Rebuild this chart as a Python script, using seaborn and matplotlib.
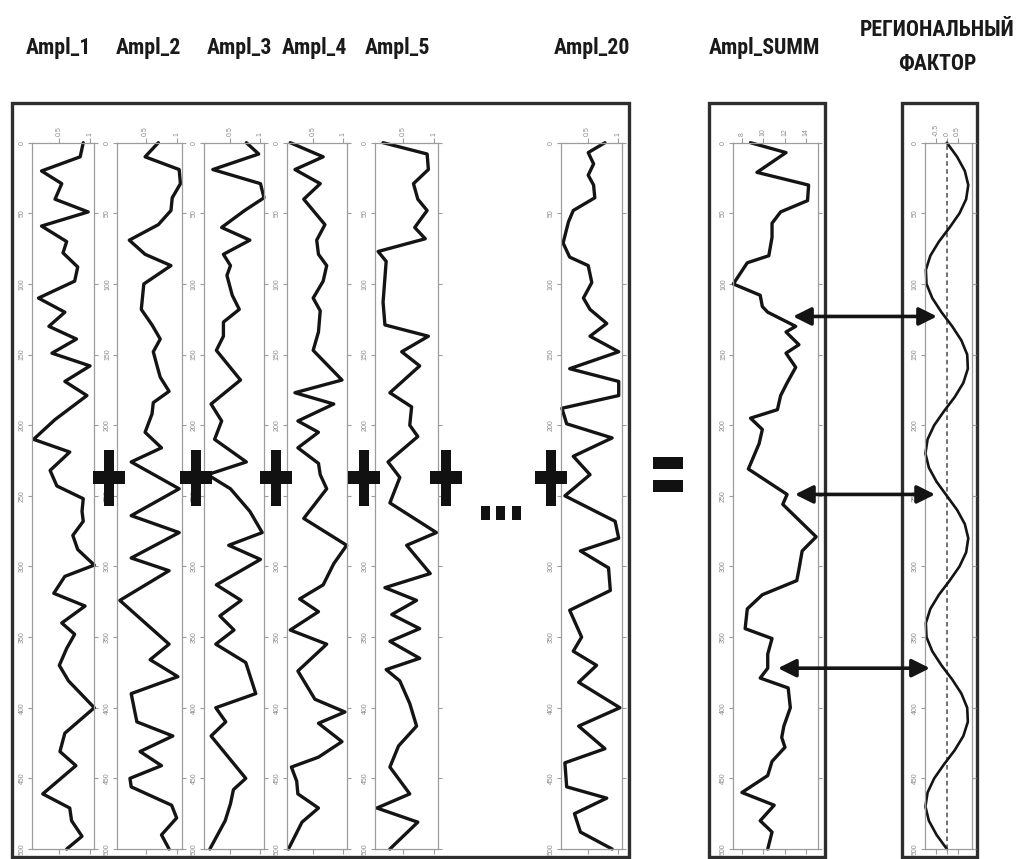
import matplotlib
matplotlib.use("Agg")
import matplotlib.pyplot as plt
import seaborn as sns
from matplotlib import font_manager as fm
from matplotlib.font_manager import FontProperties
from matplotlib.patches import Rectangle, ConnectionPatch

# ---------------- data ----------------
depth_ticks = [0, 50, 100, 150, 200, 250, 300, 350, 400, 450, 500]

track_names = ["Ampl_1", "Ampl_2", "Ampl_3", "Ampl_4", "Ampl_5", "Ampl_20"]
summ_name = "Ampl_SUMM"
regional_name = "РЕГИОНАЛЬНЫЙ\nФАКТОР"

depth_1 = [0, 10, 20, 29, 40, 49, 59, 70, 78, 88, 98, 110, 120, 130, 139, 149, 158, 169, 179, 196,
           210, 219, 232, 243, 252, 261, 268, 278, 288, 299, 307, 319, 328, 340, 348, 358, 370, 381,
           400, 418, 431, 441, 461, 471, 480, 491, 500]
ampl_1 = [0.89, 0.84, 0.21, 0.54, 0.43, 0.97, 0.21, 0.62, 0.56, 0.80, 0.75, 0.16, 0.59, 0.33, 0.78,
          0.38, 1.00, 0.59, 0.95, 0.43, 0.08, 0.67, 0.35, 0.46, 0.89, 0.87, 0.89, 0.72, 0.80, 1.07,
          0.59, 0.41, 0.92, 0.54, 0.75, 0.62, 0.50, 0.65, 1.07, 0.59, 0.51, 0.77, 0.23, 0.67, 0.70,
          0.87, 0.62]

depth_2 = [0, 10, 19, 29, 39, 48, 58, 69, 79, 87, 100, 118, 129, 139, 148, 158, 166, 176, 184, 192,
           205, 216, 226, 245, 264, 276, 294, 303, 324, 355, 366, 378, 390, 410, 420, 431, 441, 450,
           456, 469, 478, 490, 500]
ampl_2 = [0.70, 0.49, 1.03, 1.05, 0.92, 0.90, 0.70, 0.24, 0.49, 0.90, 0.47, 0.43, 0.60, 0.73, 0.62,
          0.68, 0.73, 0.87, 0.62, 0.60, 0.49, 0.75, 0.27, 1.03, 0.27, 1.03, 0.27, 0.87, 0.09, 0.87,
          0.57, 1.01, 0.27, 0.36, 0.93, 0.41, 0.75, 0.25, 0.27, 0.91, 0.99, 0.75, 0.87]

depth_3 = [0, 8, 19, 29, 39, 48, 60, 69, 79, 87, 94, 108, 118, 127, 137, 147, 168, 185, 197, 210,
           226, 235, 245, 261, 276, 285, 295, 313, 324, 335, 345, 355, 368, 390, 400, 410, 420, 450,
           458, 468, 480, 500]
ampl_3 = [0.77, 0.98, 0.20, 1.01, 1.07, 0.74, 0.35, 0.83, 0.38, 0.50, 0.44, 0.53, 0.65, 0.38, 0.38,
          0.26, 0.67, 0.17, 0.35, 0.23, 0.77, 0.11, 0.50, 0.83, 1.04, 0.47, 1.01, 0.26, 0.68, 0.32,
          0.56, 0.25, 0.76, 0.93, 0.25, 0.42, 0.17, 0.76, 0.55, 0.50, 0.41, 0.15]

depth_4 = [0, 10, 19, 29, 40, 58, 69, 79, 87, 98, 110, 119, 134, 147, 168, 177, 185, 197, 205, 216,
           227, 235, 245, 266, 285, 298, 313, 323, 332, 345, 355, 374, 394, 403, 411, 424, 435, 442,
           452, 461, 471, 481, 500]
ampl_4 = [0.11, 0.67, 0.19, 0.62, 0.34, 0.70, 0.56, 0.59, 0.73, 0.67, 0.50, 0.62, 0.59, 0.50, 0.99,
          0.19, 0.85, 0.24, 0.59, 0.24, 0.59, 0.62, 0.73, 0.34, 1.07, 0.85, 0.67, 0.27, 0.59, 0.11,
          0.73, 0.24, 0.53, 1.04, 0.59, 0.99, 0.59, 0.13, 0.22, 0.24, 0.59, 0.31, 0.08]

depth_5 = [0, 8, 19, 29, 40, 48, 60, 68, 77, 84, 113, 129, 137, 148, 158, 177, 187, 200, 208, 226,
           237, 255, 276, 285, 305, 315, 324, 334, 344, 353, 365, 373, 381, 397, 413, 427, 442, 461,
           471, 481, 500]
ampl_5 = [0.18, 0.89, 0.91, 0.67, 0.74, 0.89, 0.69, 0.86, 0.10, 0.23, 0.18, 0.21, 0.91, 0.48, 0.77,
          0.29, 0.64, 0.61, 0.74, 0.26, 0.45, 0.29, 1.04, 0.56, 0.94, 0.21, 0.72, 0.32, 0.77, 0.29,
          0.77, 0.23, 0.45, 0.61, 0.72, 0.43, 0.29, 0.61, 0.08, 0.74, 0.29]

depth_20 = [0, 7, 15, 23, 30, 39, 48, 56, 71, 81, 87, 99, 110, 118, 128, 137, 148, 160, 169, 179,
            188, 199, 209, 222, 235, 250, 268, 280, 289, 301, 317, 331, 350, 360, 370, 382, 400, 413,
            429, 439, 456, 464, 475, 488, 500]
ampl_20 = [0.79, 0.51, 0.60, 0.51, 0.60, 0.62, 0.26, 0.18, 0.09, 0.20, 0.51, 0.57, 0.43, 0.54, 0.82,
           0.54, 1.02, 0.20, 1.02, 1.02, 0.07, 0.15, 0.91, 0.26, 0.54, 0.12, 0.96, 1.02, 0.38, 0.85,
           0.88, 0.20, 0.40, 0.26, 0.65, 0.35, 1.04, 0.35, 0.79, 0.12, 0.15, 0.82, 0.28, 0.38, 0.91]

depth_summ = [0, 7, 21, 30, 41, 49, 57, 67, 80, 85, 100, 108, 116, 120, 130, 134, 143, 149, 159, 170,
              179, 189, 195, 203, 213, 231, 249, 256, 279, 289, 302, 310, 320, 330, 344, 351, 362,
              372, 379, 386, 400, 413, 421, 428, 438, 448, 460, 469, 480, 488, 500]
ampl_summ = [8.8, 12.1, 9.4, 14.2, 14.1, 11.6, 10.8, 10.8, 10.5, 8.5, 7.2, 9.7, 9.9, 10.4, 13.0, 12.1,
             13.3, 12.1, 13.0, 12.2, 11.6, 11.3, 8.8, 9.9, 9.6, 8.6, 12.2, 11.8, 14.9, 13.6, 13.3, 13.1,
             9.9, 8.5, 8.3, 10.8, 10.4, 10.4, 9.7, 12.3, 12.5, 11.9, 11.7, 12.0, 10.8, 10.4, 8.0, 11.0,
             9.7, 10.8, 10.4]

depth_regional = [0, 10, 20, 30, 40, 50, 60, 70, 80, 90, 100, 110, 120, 130, 140, 150, 160, 170, 180,
                  190, 200, 210, 220, 230, 240, 250, 260, 270, 280, 290, 300, 310, 320, 330, 340,
                  350, 360, 370, 380, 390, 400, 410, 420, 430, 440, 450, 460, 470, 480, 490, 500]
ampl_regional = [0.00, 0.48, 0.84, 1.00, 0.90, 0.59, 0.13, -0.37, -0.77, -0.98, -0.95, -0.68, -0.25,
                 0.25, 0.68, 0.95, 0.98, 0.77, 0.37, -0.13, -0.59, -0.90, -1.00, -0.84, -0.48, 0.00,
                 0.48, 0.84, 1.00, 0.90, 0.59, 0.13, -0.37, -0.77, -0.98, -0.95, -0.68, -0.25, 0.25,
                 0.68, 0.95, 0.98, 0.77, 0.37, -0.13, -0.59, -0.90, -1.00, -0.84, -0.48, 0.00]

# depths where SUMM features line up with the regional trend
link_depths = [123, 249, 372]
link_summ_values = [12.75, 12.93, 11.35]
link_regional_values = [-0.46, -0.55, -0.79]

# ---------------- style ----------------
sns.set_theme(style="white")
plt.rcParams["font.family"] = ["Liberation Sans", "DejaVu Sans"]

W, H = 1019, 859
fig = plt.figure(figsize=(W / 100, H / 100), dpi=100)
fig.patch.set_facecolor("white")

INK = "#141414"
FRAME = "#2e2e2e"
AXIS_GREY = "#9c9c9c"
LABEL_GREY = "#8a8a8a"


def pick_header_font():
    """Prefer a bold narrow/condensed face for the column headers."""
    def is_bold(f):
        w = f.weight
        if isinstance(w, (int, float)):
            return w >= 600
        return str(w).lower() in ("bold", "semibold", "demibold", "heavy", "black", "extra bold")

    def is_narrow(f):
        return ("Narrow" in f.name or "Condensed" in f.name
                or str(f.stretch) in ("condensed", "semi-condensed", "extra-condensed"))

    cands = [f for f in fm.fontManager.ttflist if is_bold(f) and is_narrow(f)]
    order = ["Liberation", "Roboto", "Open Sans", "Noto Sans", "DejaVu"]
    for key in order:
        for f in cands:
            if f.name.startswith(key) and "Mono" not in f.name and "Serif" not in f.name:
                return FontProperties(fname=f.fname)
    return FontProperties(family=["Liberation Sans", "DejaVu Sans"], weight="bold")


def px_axes(left, top, right, bottom):
    return fig.add_axes([left / W, 1 - bottom / H, (right - left) / W, (bottom - top) / H])


def px_rect(left, top, right, bottom, **kw):
    r = Rectangle((left / W, 1 - bottom / H), (right - left) / W, (bottom - top) / H,
                  transform=fig.transFigure, **kw)
    fig.add_artist(r)
    return r


def style_track(ax, xlim, xticks, xticklabels):
    ax.set_ylim(500, 0)
    ax.set_xlim(*xlim)
    ax.set_yticks(depth_ticks)
    ax.set_yticklabels([str(d) for d in depth_ticks])
    ax.set_xticks(xticks)
    ax.set_xticklabels(xticklabels)
    ax.set_xlabel("")
    ax.set_ylabel("")
    ax.grid(False)
    ax.set_facecolor("white")
    for sp in ax.spines.values():
        sp.set_color(AXIS_GREY)
        sp.set_linewidth(0.9)
        sp.set_visible(True)
    ax.tick_params(axis="y", left=True, right=True, labelleft=True, labelright=False,
                   direction="out", length=3, width=0.8, color=AXIS_GREY,
                   labelsize=5, labelcolor=LABEL_GREY, pad=1.5, labelrotation=90)
    for lab in ax.get_yticklabels():
        lab.set_verticalalignment("center")
    ax.tick_params(axis="x", top=True, bottom=True, labeltop=True, labelbottom=False,
                   direction="out", length=3.5, width=0.8, color=AXIS_GREY,
                   labelsize=5, labelcolor=LABEL_GREY, pad=1.5, labelrotation=90)


def draw_curve(ax, values, depths, lw=2.4):
    sns.lineplot(x=values, y=depths, sort=False, estimator=None, color=INK,
                 linewidth=lw, ax=ax, legend=False)
    for ln in ax.lines:
        ln.set_clip_on(False)
        ln.set_solid_joinstyle("round")


# ---------------- individual amplitude tracks ----------------
TOP, BOTTOM = 142.7, 849.0
track_px = [(31.7, 94.3), (117.3, 181.7), (204.0, 264.0), (286.7, 346.7),
            (375.0, 438.3), (560.7, 621.7)]
track_depths = [depth_1, depth_2, depth_3, depth_4, depth_5, depth_20]
track_values = [ampl_1, ampl_2, ampl_3, ampl_4, ampl_5, ampl_20]

for (l, r), d, v in zip(track_px, track_depths, track_values):
    ax = px_axes(l, TOP, r, BOTTOM)
    draw_curve(ax, v, d)
    style_track(ax, (0.05, 1.07), [0.5, 1.0], ["0.5", "1"])

# ---------------- summed amplitude ----------------
ax_summ = px_axes(733.3, TOP, 818.3, BOTTOM)
draw_curve(ax_summ, ampl_summ, depth_summ)
style_track(ax_summ, (7.2, 15.1), [8, 10, 12, 14], ["8", "10", "12", "14"])

# ---------------- regional factor ----------------
ax_reg = px_axes(925.0, TOP, 971.7, BOTTOM)
ax_reg.axvline(0, color="#4a4a4a", linewidth=1.1, linestyle=(0, (3, 2.2)), zorder=1)
draw_curve(ax_reg, ampl_regional, depth_regional, lw=1.9)
style_track(ax_reg, (-1.02, 1.16), [-0.5, 0, 0.5], ["-0.5", "0", "0.5"])

# ---------------- frames ----------------
frame_kw = dict(fill=False, edgecolor=FRAME, linewidth=2.4, zorder=0)
px_rect(11.7, 103.3, 629.0, 857.0, **frame_kw)
px_rect(709.0, 103.3, 825.0, 857.0, **frame_kw)
px_rect(902.3, 103.3, 976.7, 857.0, **frame_kw)

# ---------------- headers ----------------
head_font = pick_header_font()
title_kw = dict(color="#1a1a1a", ha="center", va="center", fontproperties=head_font)
title_x = [58, 148, 239, 314, 398, 592]
headers = []
for name, x in zip(track_names, title_x):
    headers.append(fig.text(x / W, 1 - 48 / H, name, **title_kw))
summ_text = fig.text(764 / W, 1 - 48 / H, summ_name, **title_kw)
reg_text = fig.text(937 / W, 1 - 47 / H, regional_name, linespacing=1.65, **title_kw)
headers += [summ_text, reg_text]

# size the headers so "Ampl_SUMM" spans about 112 px and the two-line label fits
renderer = fig.canvas.get_renderer()
for t in headers:
    t.set_fontsize(15)
w_summ = summ_text.get_window_extent(renderer).width
w_reg = reg_text.get_window_extent(renderer).width
size = min(15 * 112 / w_summ, 15 * 160 / w_reg)
for t in headers:
    t.set_fontsize(size)

# ---------------- operators between tracks ----------------
op_kw = dict(facecolor="#111111", edgecolor="none", zorder=5)
for cx in [109, 196, 276, 364, 446, 551]:
    px_rect(cx - 5, 450, cx + 5, 506, **op_kw)
    px_rect(cx - 16, 471, cx + 16, 484, **op_kw)
# "..."
for cx in [485, 500, 516]:
    px_rect(cx - 4.5, 506, cx + 4.5, 520, **op_kw)
# "="
px_rect(653, 457, 683, 469, **op_kw)
px_rect(653, 480, 683, 492, **op_kw)

# ---------------- links between SUMM and regional factor ----------------
for d, vs, vr in zip(link_depths, link_summ_values, link_regional_values):
    con = ConnectionPatch(xyA=(vs, d), coordsA=ax_summ.transData,
                          xyB=(vr, d), coordsB=ax_reg.transData,
                          arrowstyle="<|-|>,head_length=0.6,head_width=0.3",
                          mutation_scale=18, linewidth=2.6, color=INK,
                          shrinkA=0, shrinkB=0, zorder=6)
    fig.add_artist(con)

fig.savefig("out.png", dpi=100, facecolor="white")
